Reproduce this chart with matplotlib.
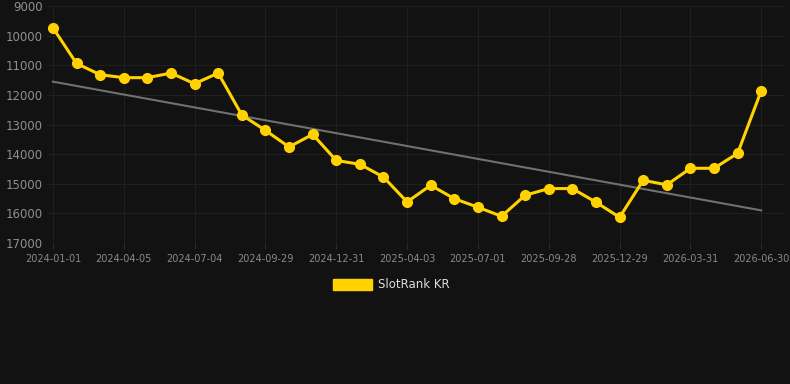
import matplotlib.pyplot as plt
import numpy as np

# monthly SlotRank KR positions (lower is better, axis inverted)
rank = [9730, 10935, 11315, 11415, 11415, 11260, 11620, 11260, 12675, 13195,
        13755, 13330, 14210, 14340, 14770, 15610, 15050, 15500, 15790, 16095,
        15385, 15160, 15160, 15620, 16130, 14880, 15035, 14475, 14475, 13970,
        11855]
tick_labels = ['2024-01-01', '2024-04-05', '2024-07-04', '2024-09-29', '2024-12-31',
               '2025-04-03', '2025-07-01', '2025-09-28', '2025-12-29', '2026-03-31',
               '2026-06-30']
y_ticks = [9000, 10000, 11000, 12000, 13000, 14000, 15000, 16000, 17000]

bg = '#121212'
yellow = '#FFD200'

x = np.arange(len(rank))
k, b = np.polyfit(x, rank, 1)

fig = plt.figure(figsize=(7.9, 3.84), dpi=100, facecolor=bg)
ax = fig.add_axes([0.0595, 0.367, 0.934, 0.617], facecolor=bg)

ax.plot(x, k * x + b, color='#707070', lw=1.5, zorder=2)
ax.plot(x, rank, color=yellow, lw=2.2, marker='o', ms=7, zorder=3)

ax.set_xlim(-0.25, 31.0)
ax.set_ylim(17000, 9000)
ax.set_yticks(y_ticks)
ax.set_xticks(x[::3])
ax.set_xticklabels(tick_labels)
ax.grid(color='#1f1f1f', lw=0.8)
for s in ax.spines.values():
    s.set_visible(False)
ax.tick_params(axis='x', colors='#2a2a2a', labelcolor='#8a8a8a', labelsize=7, length=4, pad=4)
ax.tick_params(axis='y', length=0, labelcolor='#8f8f8f', labelsize=8.5, pad=3)

fig.patches.append(plt.Rectangle((333 / 790, 1 - 290 / 384), 39 / 790, 11 / 384,
                                 transform=fig.transFigure, color=yellow))
fig.text(378 / 790, 1 - 285 / 384, 'SlotRank KR', color='#dddddd', fontsize=8.5, va='center')

fig.savefig('out.png', dpi=100, facecolor=bg)
